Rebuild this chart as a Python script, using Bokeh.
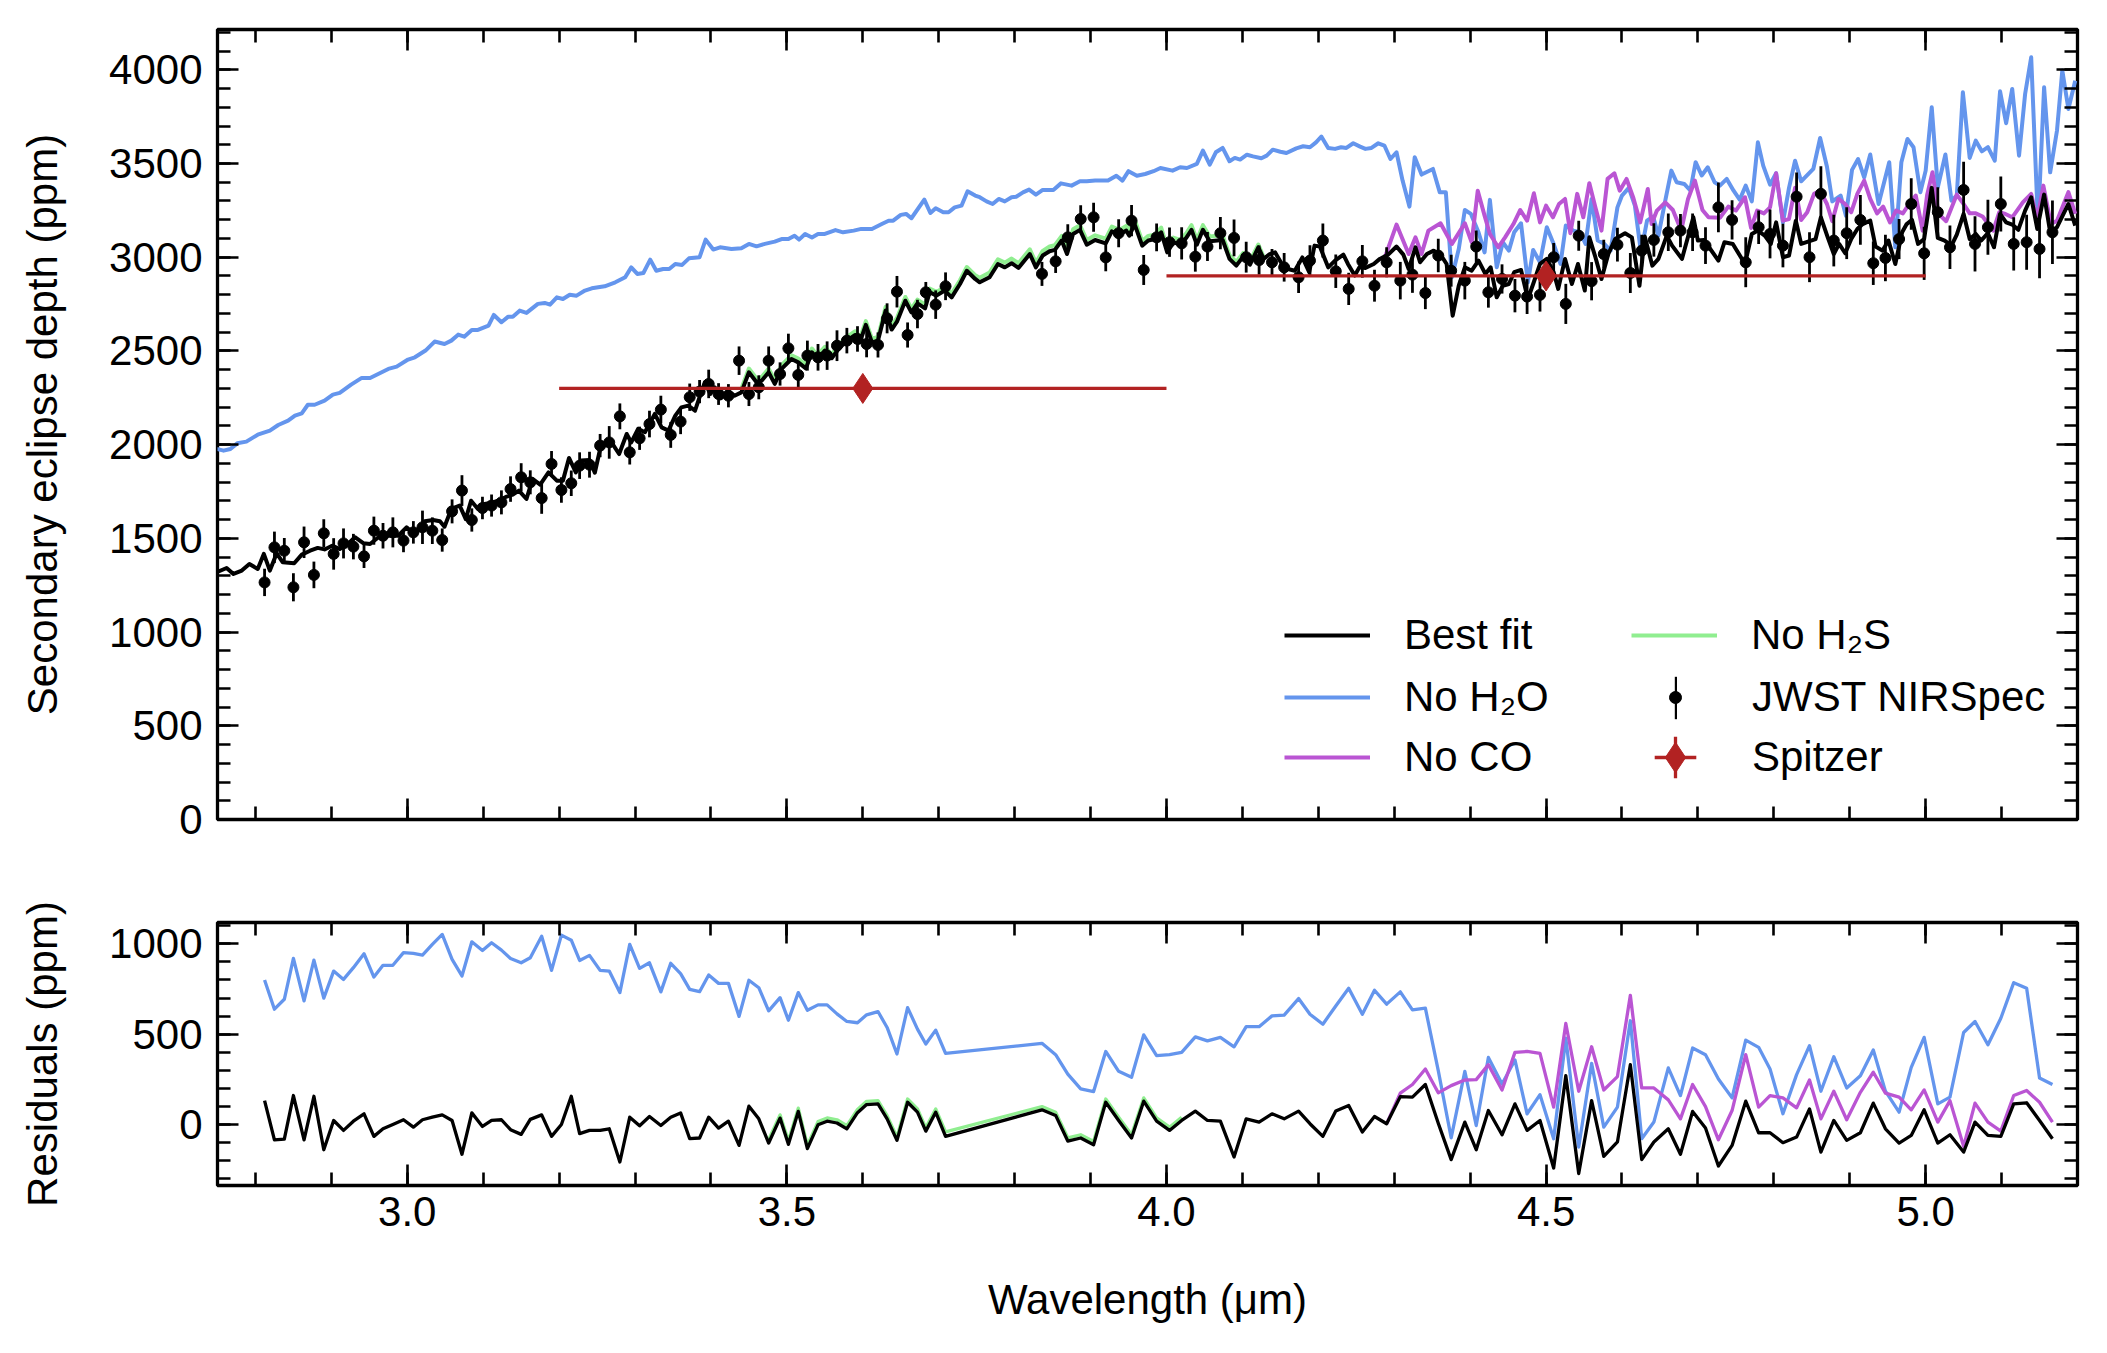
import math
from bokeh.plotting import figure
from bokeh.models import (Range1d, LinearAxis, SingleIntervalTicker, PrintfTickFormatter,
                          CustomJSTickFormatter, Legend, LegendItem)
from bokeh.layouts import column
from bokeh.embed import file_html
from bokeh.resources import INLINE

# ---------------- data: JWST NIRSpec points ----------------
wl_data = [
    2.812, 2.825, 2.838, 2.850, 2.864, 2.877, 2.890, 2.903, 2.916, 2.929,
    2.943, 2.956, 2.968, 2.981, 2.995, 3.008, 3.020, 3.033, 3.046, 3.059,
    3.072, 3.085, 3.099, 3.111, 3.124, 3.136, 3.150, 3.162, 3.177, 3.190,
    3.203, 3.216, 3.227, 3.240, 3.254, 3.266, 3.280, 3.293, 3.306, 3.319,
    3.334, 3.347, 3.360, 3.372, 3.385, 3.397, 3.410, 3.423, 3.437, 3.450,
    3.463, 3.476, 3.491, 3.502, 3.515, 3.527, 3.541, 3.553, 3.566, 3.579,
    3.593, 3.605, 3.620, 3.632, 3.645, 3.659, 3.672, 3.683, 3.696, 3.709,
    3.836, 3.854, 3.870, 3.887, 3.904, 3.920, 3.937, 3.954, 3.970, 3.987,
    4.004, 4.020, 4.038, 4.054, 4.071, 4.089, 4.105, 4.122, 4.139, 4.155,
    4.174, 4.189, 4.206, 4.223, 4.240, 4.258, 4.274, 4.290, 4.308, 4.324,
    4.341, 4.358, 4.375, 4.393, 4.408, 4.424, 4.442, 4.459, 4.475, 4.492,
    4.510, 4.526, 4.543, 4.560, 4.576, 4.594, 4.611, 4.626, 4.642, 4.661,
    4.677, 4.693, 4.710, 4.727, 4.745, 4.763, 4.780, 4.795, 4.812, 4.830,
    4.847, 4.862, 4.879, 4.896, 4.914, 4.931, 4.947, 4.965, 4.981, 4.998,
    5.016, 5.032, 5.050, 5.065, 5.082, 5.099, 5.116, 5.133, 5.150, 5.167,
]
depth_data = [
    1265, 1452, 1434, 1239, 1479, 1305, 1527, 1417, 1473, 1456,
    1404, 1541, 1514, 1532, 1488, 1532, 1559, 1541, 1491, 1644,
    1755, 1598, 1662, 1675, 1692, 1763, 1826, 1799, 1715, 1897,
    1758, 1794, 1888, 1893, 1995, 2012, 2151, 1959, 2034, 2110,
    2187, 2052, 2123, 2253, 2283, 2324, 2270, 2261, 2448, 2270,
    2306, 2448, 2377, 2514, 2372, 2475, 2466, 2475, 2528, 2555,
    2564, 2537, 2532, 2674, 2816, 2585, 2697, 2813, 2747, 2845,
    2911, 2978, 3106, 3204, 3213, 2999, 3128, 3195, 2932, 3106,
    3080, 3074, 3003, 3057, 3128, 3103, 3000, 2985, 2973, 2946,
    2893, 2982, 3089, 2925, 2831, 2978, 2848, 2973, 2875, 2907,
    2809, 3009, 2928, 2875, 3057, 2813, 2884, 2795, 2790, 2799,
    3000, 2751, 3115, 2872, 3017, 3067, 2916, 3035, 3092, 3133,
    3142, 3133, 3062, 3266, 3199, 2973, 3160, 3124, 3062, 3323,
    3000, 3338, 3089, 3128, 3199, 2968, 2996, 3097, 3284, 3021,
    3240, 3053, 3359, 3071, 3160, 3284, 3071, 3080, 3044, 3133,
]
err_data = [
    73, 84, 68, 75, 84, 71, 75, 84, 80, 68,
    62, 75, 68, 80, 62, 60, 89, 71, 62, 64,
    82, 62, 60, 59, 64, 68, 75, 64, 84, 69,
    68, 68, 71, 69, 62, 87, 69, 65, 62, 71,
    74, 69, 67, 73, 62, 76, 58, 62, 76, 64,
    64, 76, 62, 78, 71, 80, 71, 76, 82, 68,
    68, 71, 67, 80, 84, 67, 76, 55, 76, 74,
    64, 62, 70, 73, 77, 74, 75, 83, 80, 74,
    78, 86, 80, 77, 86, 98, 82, 78, 71, 76,
    84, 82, 91, 89, 86, 87, 85, 80, 100, 97,
    86, 89, 85, 100, 85, 82, 78, 89, 93, 89,
    76, 107, 80, 102, 76, 90, 107, 85, 89, 100,
    89, 100, 98, 133, 105, 133, 89, 130, 116, 129,
    133, 147, 138, 138, 133, 116, 124, 107, 138, 142,
    133, 116, 151, 147, 147, 147, 142, 147, 156, 169,
]

# ---------------- Spitzer ----------------
spitzer_wl = [3.6, 4.5]
spitzer_xerr = [0.4, 0.5]
spitzer_depth = [2300, 2900]
spitzer_yerr = [60, 60]

# ---------------- models (top panel) ----------------
wl_best_fit = [
    2.749, 2.762, 2.771, 2.782, 2.792, 2.803, 2.811, 2.819, 2.828, 2.836,
    2.851, 2.861, 2.872, 2.882, 2.891, 2.901, 2.911, 2.922, 2.931, 2.942,
    2.951, 2.962, 2.975, 2.988, 2.999, 3.010, 3.023, 3.034, 3.043, 3.049,
    3.058, 3.069, 3.077, 3.084, 3.093, 3.102, 3.113, 3.122, 3.131, 3.139,
    3.147, 3.157, 3.165, 3.175, 3.186, 3.197, 3.205, 3.213, 3.222, 3.229,
    3.240, 3.247, 3.254, 3.262, 3.269, 3.279, 3.289, 3.295, 3.304, 3.313,
    3.320, 3.326, 3.335, 3.344, 3.353, 3.361, 3.370, 3.379, 3.385, 3.392,
    3.399, 3.405, 3.413, 3.422, 3.431, 3.440, 3.450, 3.460, 3.467, 3.476,
    3.484, 3.493, 3.506, 3.515, 3.525, 3.533, 3.540, 3.550, 3.559, 3.568,
    3.579, 3.590, 3.596, 3.604, 3.612, 3.620, 3.630, 3.638, 3.645, 3.656,
    3.664, 3.672, 3.682, 3.688, 3.697, 3.708, 3.717, 3.728, 3.737, 3.748,
    3.754, 3.767, 3.778, 3.787, 3.796, 3.805, 3.820, 3.828, 3.837, 3.846,
    3.853, 3.862, 3.869, 3.877, 3.886, 3.895, 3.906, 3.920, 3.928, 3.938,
    3.947, 3.951, 3.958, 3.968, 3.976, 3.985, 3.993, 4.001, 4.009, 4.018,
    4.026, 4.033, 4.040, 4.048, 4.057, 4.067, 4.074, 4.083, 4.092, 4.101,
    4.110, 4.121, 4.128, 4.136, 4.143, 4.152, 4.160, 4.169, 4.179, 4.188,
    4.195, 4.202, 4.213, 4.222, 4.233, 4.239, 4.248, 4.254, 4.262, 4.273,
    4.281, 4.292, 4.303, 4.312, 4.319, 4.328, 4.334, 4.343, 4.352, 4.361,
    4.369, 4.377, 4.385, 4.393, 4.402, 4.411, 4.420, 4.427, 4.435, 4.443,
    4.451, 4.458, 4.467, 4.476, 4.483, 4.492, 4.501, 4.510, 4.516, 4.525,
    4.534, 4.542, 4.551, 4.557, 4.565, 4.573, 4.582, 4.591, 4.604, 4.613,
    4.623, 4.630, 4.640, 4.648, 4.659, 4.666, 4.679, 4.694, 4.700, 4.708,
    4.727, 4.735, 4.746, 4.762, 4.771, 4.779, 4.788, 4.796, 4.803, 4.812,
    4.820, 4.829, 4.836, 4.846, 4.855, 4.862, 4.871, 4.879, 4.886, 4.894,
    4.902, 4.910, 4.917, 4.927, 4.934, 4.943, 4.951, 4.960, 4.969, 4.975,
    4.982, 4.990, 4.998, 5.008, 5.016, 5.025, 5.034, 5.041, 5.050, 5.058,
    5.066, 5.073, 5.082, 5.090, 5.098, 5.106, 5.114, 5.122, 5.131, 5.139,
    5.147, 5.156, 5.164, 5.173, 5.188, 5.197,
]
best_fit = [
    1319, 1342, 1310, 1328, 1363, 1337, 1417, 1328, 1420, 1372,
    1367, 1413, 1434, 1449, 1441, 1461, 1443, 1470, 1506, 1474,
    1470, 1506, 1514, 1514, 1559, 1520, 1591, 1598, 1591, 1562,
    1657, 1675, 1603, 1701, 1657, 1683, 1692, 1705, 1723, 1733,
    1755, 1710, 1817, 1787, 1852, 1808, 1808, 1929, 1852, 1915,
    1918, 1850, 1977, 2012, 2012, 1950, 2057, 2012, 2084, 2066,
    2119, 2164, 2092, 2075, 2155, 2199, 2208, 2181, 2253, 2333,
    2270, 2306, 2247, 2288, 2261, 2279, 2386, 2333, 2342, 2386,
    2324, 2404, 2457, 2439, 2407, 2493, 2457, 2502, 2461, 2510,
    2555, 2585, 2546, 2639, 2546, 2555, 2715, 2614, 2656, 2768,
    2706, 2754, 2727, 2813, 2795, 2822, 2786, 2857, 2928, 2884,
    2866, 2893, 2964, 2946, 2968, 2943, 3017, 2946, 3009, 3032,
    3039, 3089, 3017, 3124, 3146, 3067, 3092, 3074, 3138, 3121,
    3142, 3115, 3177, 3062, 3089, 3097, 3133, 3026, 3080, 3067,
    3103, 3146, 3067, 3146, 3085, 3089, 3092, 2991, 2955, 3003,
    2960, 3053, 2991, 3017, 3026, 2964, 2937, 2928, 2999, 2920,
    3062, 3057, 2946, 2982, 3014, 2964, 2902, 2946, 2943, 2964,
    2991, 3014, 3057, 3014, 2937, 3053, 2973, 3017, 3035, 3014,
    2964, 2688, 2848, 2946, 2928, 2982, 2911, 2946, 2786, 2848,
    2857, 2920, 2932, 2777, 2857, 2964, 2991, 2920, 2831, 2991,
    2857, 2964, 2822, 3106, 3000, 2884, 3017, 3097, 3128, 3106,
    2848, 3110, 2955, 2991, 3115, 3062, 2991, 3213, 3089, 3092,
    2982, 3080, 3071, 2964, 3124, 3142, 3115, 3071, 3186, 3000,
    3009, 3195, 3071, 3085, 3097, 3213, 3106, 3017, 3071, 3021,
    3097, 3151, 3177, 3195, 3057, 3035, 3089, 2964, 3133, 3177,
    3199, 3071, 3097, 3370, 3103, 3089, 3062, 3121, 3231, 3097,
    3124, 3089, 3128, 3053, 3231, 3186, 3174, 3146, 3249, 3320,
    3151, 3334, 3133, 3160, 3284, 3169,
]
wl_no_h2o = [
    2.749, 2.758, 2.767, 2.776, 2.788, 2.803, 2.819, 2.830, 2.843, 2.852,
    2.861, 2.869, 2.878, 2.891, 2.902, 2.911, 2.926, 2.940, 2.951, 2.975,
    2.986, 3.001, 3.010, 3.024, 3.036, 3.049, 3.058, 3.067, 3.075, 3.085,
    3.093, 3.107, 3.114, 3.124, 3.133, 3.139, 3.148, 3.157, 3.172, 3.181,
    3.188, 3.197, 3.205, 3.214, 3.223, 3.234, 3.243, 3.260, 3.274, 3.287,
    3.295, 3.303, 3.311, 3.320, 3.328, 3.337, 3.345, 3.353, 3.362, 3.371,
    3.385, 3.393, 3.403, 3.412, 3.427, 3.440, 3.450, 3.460, 3.471, 3.484,
    3.493, 3.502, 3.510, 3.516, 3.524, 3.533, 3.541, 3.550, 3.564, 3.574,
    3.588, 3.598, 3.612, 3.625, 3.634, 3.640, 3.650, 3.657, 3.664, 3.681,
    3.689, 3.696, 3.706, 3.713, 3.721, 3.730, 3.738, 3.748, 3.754, 3.763,
    3.771, 3.779, 3.787, 3.796, 3.802, 3.811, 3.819, 3.828, 3.837, 3.851,
    3.861, 3.875, 3.886, 3.895, 3.906, 3.923, 3.934, 3.942, 3.950, 3.961,
    3.972, 3.983, 3.992, 4.008, 4.018, 4.027, 4.040, 4.048, 4.057, 4.065,
    4.074, 4.083, 4.090, 4.097, 4.106, 4.114, 4.125, 4.132, 4.140, 4.150,
    4.158, 4.171, 4.180, 4.189, 4.197, 4.204, 4.213, 4.222, 4.230, 4.237,
    4.246, 4.255, 4.262, 4.270, 4.279, 4.287, 4.295, 4.303, 4.311, 4.320,
    4.327, 4.336, 4.351, 4.360, 4.368, 4.376, 4.385, 4.393, 4.401, 4.411,
    4.419, 4.426, 4.435, 4.443, 4.451, 4.458, 4.467, 4.476, 4.483, 4.492,
    4.501, 4.510, 4.519, 4.526, 4.536, 4.545, 4.552, 4.560, 4.568, 4.576,
    4.585, 4.594, 4.600, 4.609, 4.617, 4.625, 4.633, 4.641, 4.648, 4.657,
    4.665, 4.672, 4.682, 4.690, 4.697, 4.705, 4.713, 4.722, 4.729, 4.738,
    4.747, 4.755, 4.763, 4.771, 4.779, 4.786, 4.795, 4.803, 4.812, 4.820,
    4.828, 4.836, 4.852, 4.861, 4.870, 4.877, 4.888, 4.895, 4.903, 4.911,
    4.919, 4.927, 4.938, 4.952, 4.960, 4.968, 4.976, 4.984, 4.993, 5.000,
    5.008, 5.016, 5.026, 5.034, 5.041, 5.049, 5.058, 5.066, 5.074, 5.082,
    5.091, 5.098, 5.106, 5.114, 5.123, 5.131, 5.139, 5.148, 5.156, 5.164,
    5.173, 5.180, 5.188, 5.197,
]
no_h2o = [
    1977, 1968, 1977, 2007, 2016, 2053, 2075, 2105, 2128, 2155,
    2167, 2213, 2213, 2235, 2267, 2276, 2320, 2356, 2356, 2404,
    2416, 2454, 2466, 2502, 2550, 2537, 2555, 2587, 2576, 2612,
    2612, 2635, 2692, 2653, 2683, 2683, 2715, 2703, 2751, 2756,
    2747, 2786, 2777, 2800, 2795, 2822, 2834, 2845, 2866, 2893,
    2946, 2911, 2916, 2987, 2928, 2937, 2937, 2964, 2959, 2994,
    3000, 3094, 3041, 3053, 3044, 3048, 3071, 3058, 3071, 3083,
    3097, 3097, 3115, 3094, 3124, 3105, 3124, 3124, 3145, 3133,
    3142, 3151, 3151, 3177, 3195, 3195, 3226, 3231, 3208, 3307,
    3236, 3261, 3240, 3240, 3266, 3275, 3352, 3329, 3320, 3298,
    3284, 3311, 3298, 3320, 3323, 3346, 3361, 3334, 3359, 3359,
    3394, 3382, 3405, 3405, 3409, 3409, 3435, 3409, 3459, 3435,
    3444, 3459, 3476, 3462, 3480, 3476, 3498, 3569, 3494, 3560,
    3583, 3512, 3530, 3521, 3547, 3538, 3528, 3542, 3574, 3563,
    3556, 3581, 3592, 3587, 3613, 3644, 3583, 3578, 3587, 3583,
    3608, 3590, 3578, 3583, 3608, 3596, 3524, 3560, 3409, 3270,
    3533, 3441, 3471, 3346, 3346, 2893, 3044, 3252, 3231, 3133,
    3026, 3306, 2946, 3080, 3035, 3133, 3181, 2866, 3039, 2973,
    3160, 3071, 2964, 3169, 3142, 3133, 3071, 3311, 3089, 3074,
    3035, 3266, 3329, 3370, 3275, 3026, 3195, 3217, 3115, 3302,
    3462, 3400, 3391, 3356, 3507, 3436, 3480, 3400, 3382, 3418,
    3355, 3307, 3382, 3298, 3613, 3489, 3387, 3448, 3186, 3370,
    3515, 3405, 3471, 3636, 3483, 3298, 3329, 3222, 3466, 3524,
    3426, 3548, 3284, 3507, 3053, 3507, 3631, 3587, 3347, 3462,
    3800, 3373, 3548, 3302, 3329, 3880, 3530, 3622, 3565, 3587,
    3515, 3885, 3715, 3898, 3542, 3871, 4067, 3177, 3907, 3453,
    3676, 3996, 3791, 3942,
]
wl_no_co = [
    4.288, 4.303, 4.319, 4.328, 4.336, 4.345, 4.361, 4.376, 4.393, 4.402,
    4.410, 4.419, 4.426, 4.437, 4.446, 4.457, 4.466, 4.475, 4.484, 4.492,
    4.500, 4.509, 4.517, 4.525, 4.532, 4.541, 4.549, 4.557, 4.565, 4.573,
    4.581, 4.590, 4.597, 4.606, 4.615, 4.624, 4.634, 4.639, 4.646, 4.657,
    4.667, 4.678, 4.687, 4.696, 4.706, 4.714, 4.729, 4.740, 4.750, 4.762,
    4.770, 4.778, 4.787, 4.795, 4.803, 4.812, 4.820, 4.828, 4.836, 4.844,
    4.853, 4.861, 4.870, 4.877, 4.885, 4.894, 4.902, 4.910, 4.919, 4.927,
    4.936, 4.944, 4.953, 4.961, 4.970, 4.979, 4.987, 4.996, 5.002, 5.009,
    5.017, 5.027, 5.041, 5.050, 5.058, 5.066, 5.075, 5.089, 5.097, 5.105,
    5.114, 5.128, 5.139, 5.147, 5.155, 5.165, 5.173, 5.188, 5.197,
]
no_co = [
    3003, 3174, 3017, 3106, 3017, 3142, 3181, 3071, 3181, 3080,
    3355, 3222, 3124, 3053, 3106, 3177, 3252, 3195, 3341, 3186,
    3275, 3213, 3284, 3311, 3128, 3338, 3213, 3395, 3266, 3142,
    3418, 3448, 3355, 3418, 3316, 3186, 3364, 3177, 3249, 3293,
    3252, 3142, 3311, 3409, 3252, 3213, 3210, 3270, 3249, 3320,
    3156, 3249, 3234, 3266, 3448, 3195, 3204, 3370, 3199, 3240,
    3338, 3355, 3284, 3192, 3311, 3284, 3240, 3338, 3409, 3311,
    3234, 3270, 3186, 3249, 3234, 3288, 3329, 3142, 3334, 3453,
    3231, 3192, 3334, 3284, 3234, 3234, 3217, 3142, 3240, 3231,
    3213, 3293, 3338, 3204, 3382, 3177, 3195, 3347, 3231,
]
wl_no_h2s = [
    3.440, 3.450, 3.460, 3.467, 3.476, 3.484, 3.493, 3.506, 3.515, 3.525,
    3.533, 3.540, 3.550, 3.559, 3.568, 3.579, 3.590, 3.596, 3.604, 3.612,
    3.620, 3.630, 3.638, 3.645, 3.656, 3.664, 3.672, 3.682, 3.688, 3.697,
    3.708, 3.717, 3.728, 3.737, 3.748, 3.754, 3.767, 3.778, 3.787, 3.796,
    3.805, 3.820, 3.828, 3.837, 3.846, 3.853, 3.862, 3.869, 3.877, 3.886,
    3.895, 3.906, 3.920, 3.928, 3.938, 3.947, 3.951, 3.958, 3.968, 3.976,
    3.985, 3.993, 4.001, 4.009, 4.018, 4.026, 4.033, 4.040, 4.048, 4.057,
    4.067, 4.074, 4.083, 4.092, 4.101, 4.110, 4.121, 4.128,
]
no_h2s = [
    2299, 2406, 2353, 2362, 2406, 2344, 2424, 2477, 2459, 2427,
    2513, 2477, 2522, 2481, 2530, 2575, 2605, 2566, 2659, 2566,
    2575, 2735, 2634, 2676, 2788, 2726, 2774, 2747, 2833, 2815,
    2842, 2806, 2877, 2948, 2904, 2890, 2918, 2989, 2971, 2993,
    2968, 3042, 2971, 3034, 3057, 3064, 3114, 3042, 3149, 3171,
    3092, 3117, 3099, 3163, 3146, 3167, 3140, 3202, 3087, 3114,
    3122, 3158, 3051, 3105, 3092, 3128, 3171, 3092, 3171, 3110,
    3114, 3117, 3011, 2975, 3023, 2980, 3068, 3001,
]

# ---------------- residuals (bottom panel), on the data wavelengths ----------------
res_best_fit = [
    132, -85, -81, 160, -85, 156, -140, 22, -33, 18,
    59, -66, -24, 0, 26, -15, 26, 40, 53, 22,
    -165, 64, -11, 22, 26, -29, -55, 28, 53, -66,
    0, 156, -51, -33, -33, -24, -208, 40, -7, 44,
    -6, 40, 64, -79, -75, 40, -20, 18, -116, 101,
    31, -103, 35, -110, 72, -134, -2, 18, 8, -25,
    65, 110, 114, 31, -88, 123, 68, -37, 68, -66,
    81, 50, -92, -75, -112, 123, 22, -75, 129, 18,
    -33, 22, 74, 22, 18, -180, 31, 13, 59, 31,
    74, 4, -66, 74, 105, -42, 44, 4, 154, 151,
    221, 7, -195, 13, -140, 77, -57, 114, -33, 22,
    -241, 270, -272, 132, -177, -97, 331, -195, -97, -24,
    -165, 72, -20, -230, -116, 129, -46, -46, -101, -70,
    86, -153, 22, -88, -46, 118, -24, -103, -61, 81,
    -103, -57, -153, 13, -61, -66, 114, 120, 22, -79,
]
res_no_h2o = [
    800, 638, 693, 919, 684, 910, 699, 849, 803, 868,
    945, 816, 881, 881, 951, 947, 938, 997, 1052, 914,
    822, 1011, 963, 1006, 965, 919, 895, 923, 1042, 853,
    1048, 1020, 908, 936, 853, 849, 730, 997, 864, 895,
    734, 892, 835, 748, 735, 827, 781, 781, 598, 798,
    757, 629, 702, 577, 730, 632, 662, 662, 612, 570,
    563, 607, 625, 537, 390, 647, 528, 445, 522, 393,
    449, 386, 279, 197, 182, 404, 294, 261, 496, 381,
    386, 399, 485, 463, 482, 430, 541, 541, 601, 605,
    697, 610, 555, 656, 754, 610, 743, 666, 734, 634,
    644, 298, -74, 294, -6, 371, 224, 357, 59, 165,
    -79, 478, -125, 338, -15, 96, 574, -79, 13, 313,
    160, 423, 386, 252, 147, 467, 427, 307, 59, 276,
    436, 184, 375, 202, 270, 412, 184, 68, 316, 482,
    114, 151, 509, 570, 441, 588, 785, 754, 257, 221,
]
# No CO residuals: the last 53 data wavelengths (from 4.29 um)
res_no_co = [
    4, 173, 221, 307, 175, 215, 246, 248, 331, 191,
    399, 404, 393, 96, 559, 184, 430, 191, 265, 715,
    202, 202, 136, 31, 221, 99, -85, 77, 386, 96,
    160, 147, 92, 246, 31, 184, 26, 178, 289, 173,
    151, 81, 191, 13, 132, -121, 118, 13, -37, 160,
    188, 123, 13,
]
# No H2S residuals: data wavelengths 3.476 - 4.020 (where it separates from the best fit)
res_no_h2s = [
    -85, 53, -92, 90, -116, 16, 36, 26, -7, 83,
    128, 132, 49, -70, 141, 86, -19, 86, -41,
    99, 68, -74, -57, -94, 141, 40, -57, 147, 36, -15, 40,
]
H2S_START = 51

# ---------------- style ----------------
FONT = "Liberation Sans"
FS = "42px"
C_BEST = "#000000"
C_H2O = "#6495ED"
C_CO = "#BA55D3"
C_H2S = "#90EE90"
C_SPITZER = "#B22222"

XR = Range1d(2.75, 5.2)


def style_axis(ax, show_labels, fmt=None, standoff=12):
    ax.axis_line_color = None
    ax.major_tick_in = 21
    ax.major_tick_out = 0
    ax.minor_tick_in = 13
    ax.minor_tick_out = 0
    ax.major_tick_line_color = "black"
    ax.minor_tick_line_color = "black"
    ax.major_tick_line_width = 2.6
    ax.minor_tick_line_width = 2.6
    if show_labels:
        ax.formatter = fmt
        ax.major_label_text_font = FONT
        ax.major_label_text_font_size = FS
        ax.major_label_text_color = "black"
        ax.major_label_standoff = standoff
    else:
        ax.formatter = CustomJSTickFormatter(code="return ''")
        ax.major_label_text_font_size = "0px"
        ax.major_label_standoff = 0


def axis_title(ax, text, standoff):
    ax.axis_label = text
    ax.axis_label_text_font = FONT
    ax.axis_label_text_font_size = FS
    ax.axis_label_text_font_style = "normal"
    ax.axis_label_text_color = "black"
    ax.axis_label_standoff = standoff


def make_fig(frame_h, y_range, border_top, border_bottom, y_interval):
    p = figure(frame_width=1860, frame_height=frame_h, x_range=XR, y_range=y_range,
               output_backend="svg", toolbar_location=None,
               min_border_left=217, min_border_right=14,
               min_border_top=border_top, min_border_bottom=border_bottom,
               background_fill_color="white", border_fill_color="white")
    p.xgrid.visible = False
    p.ygrid.visible = False
    p.outline_line_color = "black"
    p.outline_line_width = 3.3
    p.below[0].ticker = SingleIntervalTicker(interval=0.5, num_minor_ticks=5)
    p.left[0].ticker = SingleIntervalTicker(interval=y_interval, num_minor_ticks=5)
    top = LinearAxis(ticker=SingleIntervalTicker(interval=0.5, num_minor_ticks=5))
    right = LinearAxis(ticker=SingleIntervalTicker(interval=y_interval, num_minor_ticks=5))
    p.add_layout(top, "above")
    p.add_layout(right, "right")
    style_axis(top, False)
    style_axis(right, False)
    style_axis(p.left[0], True, PrintfTickFormatter(format="%d"), 15)
    return p


# ---------------- top panel ----------------
p1 = make_fig(790, Range1d(0, 4215), 29, 40, 500)
style_axis(p1.below[0], False)
axis_title(p1.left[0], "Secondary eclipse depth (ppm)", 40)

LW = 4.0
r_h2s = p1.line(wl_no_h2s, no_h2s, line_color=C_H2S, line_width=LW, line_join="round")
r_h2o = p1.line(wl_no_h2o, no_h2o, line_color=C_H2O, line_width=LW, line_join="round")
r_co = p1.line(wl_no_co, no_co, line_color=C_CO, line_width=LW, line_join="round")
r_best = p1.line(wl_best_fit, best_fit, line_color=C_BEST, line_width=LW, line_join="round")

lo = [d - e for d, e in zip(depth_data, err_data)]
hi = [d + e for d, e in zip(depth_data, err_data)]
p1.segment(x0=wl_data, y0=lo, x1=wl_data, y1=hi, line_color="black", line_width=2.8)
r_dots = p1.scatter(wl_data, depth_data, marker="circle", size=11,
                    fill_color="black", line_color="black")
# zero-size proxy: only gives the legend its vertical error-bar glyph
r_bar_proxy = p1.rect(x=wl_data, y=depth_data, width=0, height=0,
                      fill_color="black", line_color=None)

sx0 = [w - e for w, e in zip(spitzer_wl, spitzer_xerr)]
sx1 = [w + e for w, e in zip(spitzer_wl, spitzer_xerr)]
sy0 = [d - e for d, e in zip(spitzer_depth, spitzer_yerr)]
sy1 = [d + e for d, e in zip(spitzer_depth, spitzer_yerr)]
p1.segment(x0=sx0, y0=spitzer_depth, x1=sx1, y1=spitzer_depth, line_color=C_SPITZER, line_width=3.3)
p1.segment(x0=spitzer_wl, y0=sy0, x1=spitzer_wl, y1=sy1, line_color=C_SPITZER, line_width=3.3)
r_sp = p1.scatter(spitzer_wl, spitzer_depth, marker="diamond", size=30,
                  fill_color=C_SPITZER, line_color=C_SPITZER)
r_cross_proxy = p1.scatter(spitzer_wl, spitzer_depth, marker="cross", size=0,
                           line_color=C_SPITZER, line_width=3.3)


def add_legend(p, label, renderers, vx, vy, gw, gh, standoff):
    lg = Legend(items=[LegendItem(label=label, renderers=renderers)],
                location=(vx, vy), orientation="vertical",
                glyph_width=gw, glyph_height=gh, label_height=gh, label_standoff=standoff,
                padding=0, margin=0, spacing=0,
                label_text_font=FONT, label_text_font_size=FS, label_text_color="black",
                border_line_alpha=0, background_fill_alpha=0)
    p.add_layout(lg)


# column 1
add_legend(p1, "Best fit", [r_best], 1067, 158, 86, 52, 34)
add_legend(p1, "No H\u2082O", [r_h2o], 1067, 96, 86, 52, 34)
add_legend(p1, "No CO", [r_co], 1067, 36, 86, 52, 34)
# column 2
add_legend(p1, "No H\u2082S", [r_h2s], 1414, 158, 86, 52, 34)
add_legend(p1, " ", [r_bar_proxy], 1456.5, 95.5, 3, 53, 0)
add_legend(p1, "JWST NIRSpec", [r_dots], 1443, 96, 30, 52, 62)
add_legend(p1, " ", [r_cross_proxy], 1406, 10, 104, 104, 0)
add_legend(p1, "Spitzer", [r_sp], 1420, 24, 76, 76, 39)

# ---------------- bottom panel ----------------
p2 = make_fig(263, Range1d(-338, 1118), 63, 160, 500)
style_axis(p2.below[0], True, PrintfTickFormatter(format="%.1f"), 11)
axis_title(p2.below[0], "Wavelength (\u03bcm)", 47)
axis_title(p2.left[0], "Residuals (ppm)", 40)

LW2 = 3.3
p2.line(wl_data[H2S_START:H2S_START + len(res_no_h2s)], res_no_h2s,
        line_color=C_H2S, line_width=LW2, line_join="round")
p2.line(wl_data, res_no_h2o, line_color=C_H2O, line_width=LW2, line_join="round")
p2.line(wl_data[-len(res_no_co):], res_no_co, line_color=C_CO, line_width=LW2, line_join="round")
p2.line(wl_data, res_best_fit, line_color=C_BEST, line_width=LW2, line_join="round")

layout = column(p1, p2)
open("out.html", "w").write(file_html(layout, INLINE, title="Secondary eclipse spectrum"))
